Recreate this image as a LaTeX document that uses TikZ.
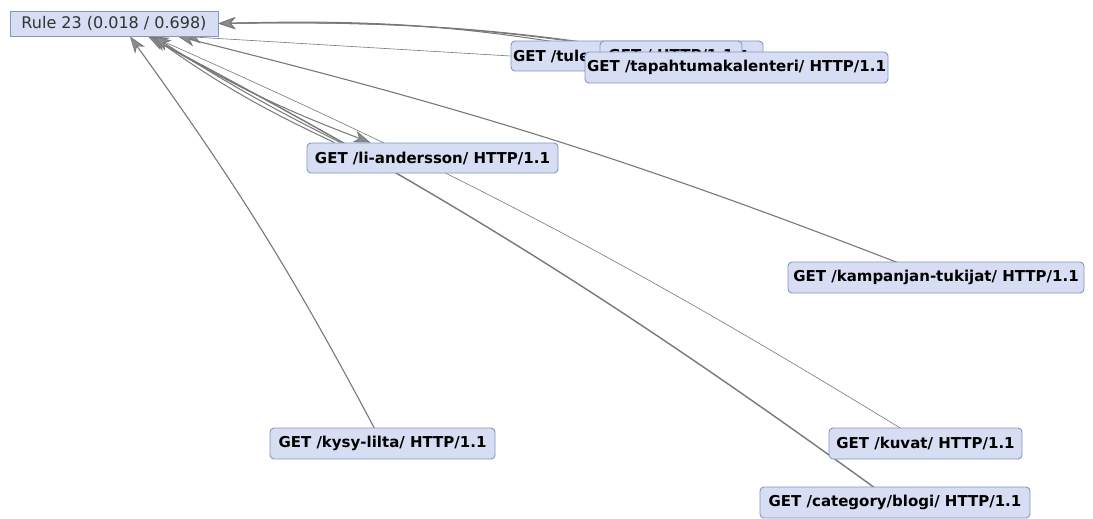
\documentclass[tikz,border=0pt]{standalone}
\usepackage{fontspec}
\setmainfont{DejaVu Sans}
\usetikzlibrary{arrows.meta}
\definecolor{boxfill}{RGB}{215,221,243}
\definecolor{boxline}{RGB}{132,148,196}
\definecolor{edgegray}{RGB}{120,120,120}
\pgfdeclarelayer{bg}
\pgfsetlayers{bg,main}
\begin{document}
\begin{tikzpicture}[x=1pt,y=1pt,
  req/.style={draw=boxline, fill=boxfill, rounded corners=4pt, line width=0.9pt, inner sep=0pt,
    font=\bfseries\fontsize{15}{18}\selectfont, text=black, minimum height=30pt},
  rulebox/.style={draw=boxline, fill=boxfill, line width=0.9pt, inner sep=0pt,
    font=\fontsize{16}{19}\selectfont, text=black!80, minimum height=25pt, minimum width=208pt},
  tip/.tip={Stealth[length=17pt,width=12pt,inset=5pt,line width=0.8pt,fill=edgegray!85]},
  link/.style={draw=edgegray, line width=1pt, -tip},
  slimlink/.style={link, line width=0.6pt},
  boldlink/.style={link, line width=1.4pt}]
\useasboundingbox (0,0) rectangle (1093,-519);

% nodes
\node[rulebox] (rule) at (114,-23.5) {Rule 23 (0.018 / 0.698)};
\node[req, minimum width=252pt, text width=248pt, align=left, inner xsep=2pt] (tule) at (637,-56) {GET /tule-mukaan/ HTTP/1.1};
\node[req, minimum width=142pt] (root) at (671,-56) {GET / HTTP/1.1};
\node[req, minimum width=303pt, minimum height=31pt] (tapa) at (736.5,-67.5) {GET /tapahtumakalenteri/ HTTP/1.1};
\node[req, minimum width=251pt] (li) at (432.5,-158) {GET /li-andersson/ HTTP/1.1};
\node[req, minimum width=296pt, minimum height=31pt] (kamp) at (936,-277.5) {GET /kampanjan-tukijat/ HTTP/1.1};
\node[req, minimum width=225pt, minimum height=31pt] (kysy) at (382.5,-443.5) {GET /kysy-lilta/ HTTP/1.1};
\node[req, minimum width=193pt, minimum height=31pt] (kuvat) at (925.5,-443.5) {GET /kuvat/ HTTP/1.1};
\node[req, minimum width=270pt, minimum height=31pt] (blogi) at (895,-502.5) {GET /category/blogi/ HTTP/1.1};

% connectors
\begin{pgfonlayer}{bg}
\fill[white] (0,0) rectangle (1093,-519);
\draw[link] (tapa.center) to[bend right=5.7] (rule.east);
\draw[link] (root.center) to[bend right=5] (rule.east);
\draw[link] (tule.center) to[bend right=6] (rule.east);
\draw[slimlink] (tule.west) -- ([xshift=70pt]rule.south);
\draw[link, line width=1.1pt] (kamp.center) to[bend right=3.7] ([xshift=64pt]rule.south);
\draw[link, line width=1.1pt] (kysy.center) to[bend right=4] ([xshift=16pt]rule.south);
\draw[slimlink] (kuvat.center) to[bend right=3.8] ([xshift=38pt]rule.south);
\draw[boldlink] (blogi.center) to[bend right=4] ([xshift=34pt]rule.south);
\draw[link] ([xshift=36pt]rule.south) to[bend right=5] ([xshift=-62pt]li.north);
\draw[link] ([xshift=-98pt]li.north) to[bend left=5] ([xshift=38pt]rule.south);
\draw[link] ([xshift=-92pt]li.north) to[bend left=3] ([xshift=40pt]rule.south);
\end{pgfonlayer}
\end{tikzpicture}
\end{document}
